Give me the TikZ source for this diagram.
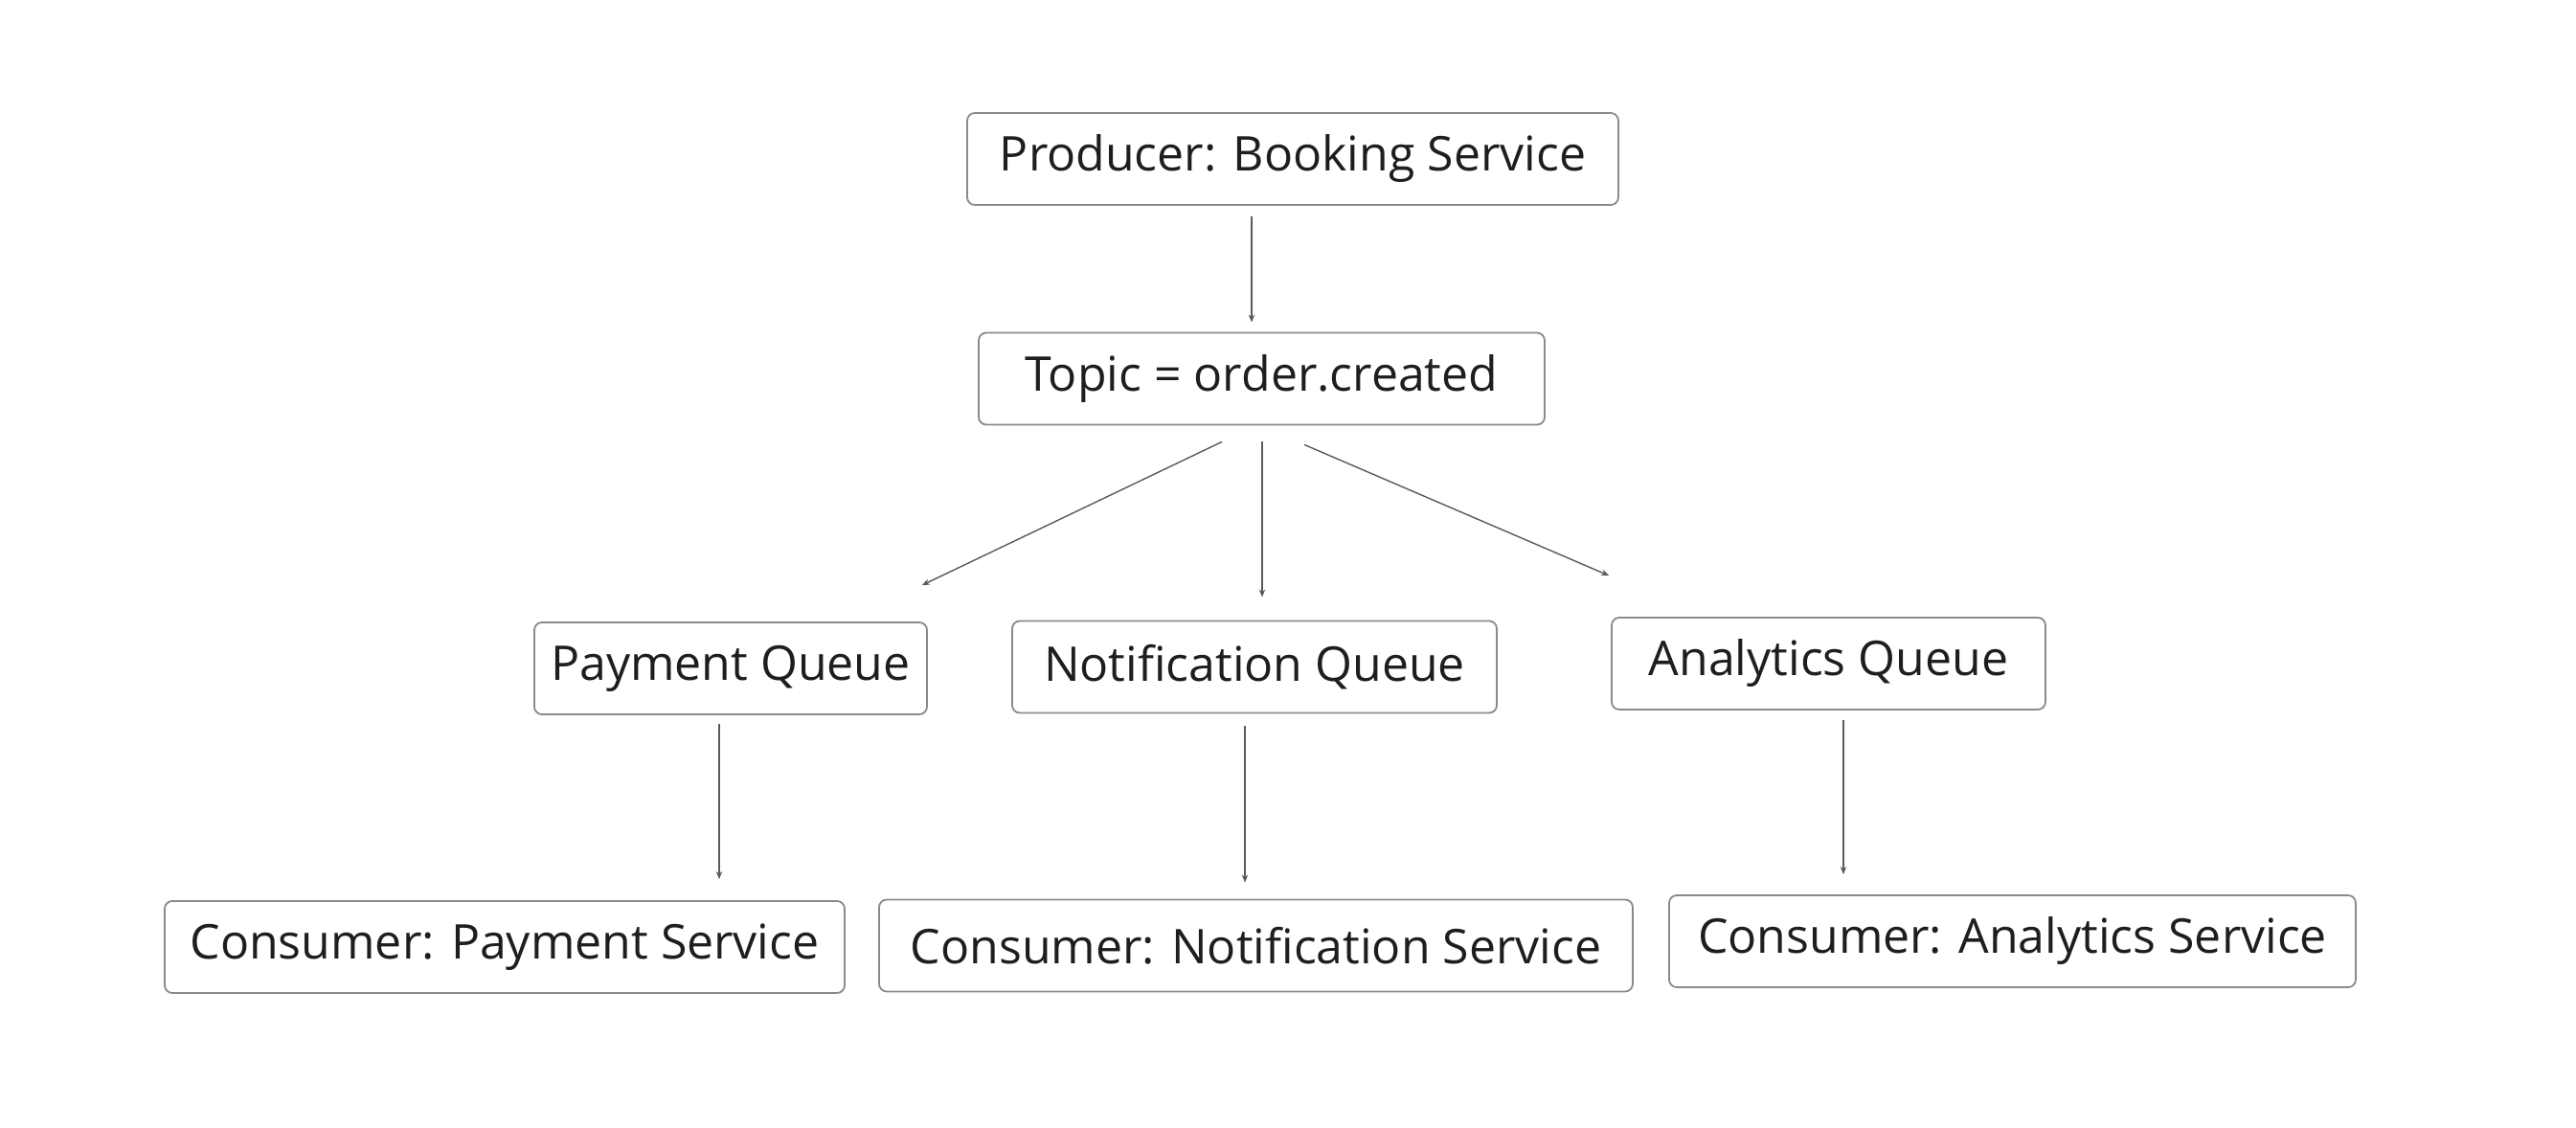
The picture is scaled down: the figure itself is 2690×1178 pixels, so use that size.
\documentclass[tikz,border=0pt]{standalone}
\usepackage{fontspec}
\setmainfont{Open Sans}
\usepackage{xcolor}
\usepackage{tikz}
\usetikzlibrary{arrows.meta,positioning,calc}
\definecolor{cInk}{HTML}{1E1E1E}
\definecolor{cEdge}{HTML}{8A8A8A}
\definecolor{cFlow}{HTML}{5A5A5A}
\newcommand{\lbl}[1]{{\fontsize{12.5}{15}\selectfont #1}}

\begin{document}
\begin{tikzpicture}[
    x=0.25pt, y=-0.25pt,
    font=\rmfamily, text=cInk,
    box/.style={rounded corners=2pt, draw=cEdge, line width=0.45pt,
                align=center, inner sep=0pt, minimum height=24pt},
    flow/.style={-{Stealth[length=2pt,width=1.6pt]}, line width=0.35pt, draw=cFlow},
  ]
  \useasboundingbox (0,0) rectangle (2690,1178);
  \node[box, minimum width=170pt] (prod) at (1350,166) {\lbl{Producer: Booking Service}};
  \node[box, minimum width=147.75pt] (topic) at (1317.5,395.5) {\lbl{Topic = order.created}};
  \node[box, minimum width=102.5pt] (payq) at (763,698) {\lbl{Payment Queue}};
  \node[box, minimum width=126.5pt] (notq) at (1310,696.5) {\lbl{Notification Queue}};
  \node[box, minimum width=113.25pt] (anaq) at (1909.5,693) {\lbl{Analytics Queue}};
  \node[box, minimum width=177.5pt] (conp) at (527,989) {\lbl{Consumer: Payment Service}};
  \node[box, minimum width=196.75pt] (conn) at (1311.5,987.5) {\lbl{Consumer: Notification Service}};
  \node[box, minimum width=179.25pt] (cona) at (2101.5,983) {\lbl{Consumer: Analytics Service}};
  \draw[flow] ($(prod.south)+(-43,11)$) -- ($(topic.north)+(-10.5,-10)$);
  \draw[flow] ($(topic.south)+(-41.5,17)$) -- ($(payq.north east)+(-6,-38)$);
  \draw[flow] ($(topic.south)+(0.5,17)$) -- ($(notq.north)+(8,-24)$);
  \draw[flow] ($(topic.south)+(44.5,20)$) -- ($(anaq.north west)+(-2,-43)$);
  \draw[flow] ($(payq.south)+(-12,9)$) -- ($(payq.south |- conp.north)+(-12,-22)$);
  \draw[flow] ($(notq.south)+(-10,13)$) -- ($(notq.south |- conn.north)+(-10,-17)$);
  \draw[flow] ($(anaq.south)+(15.5,10)$) -- ($(anaq.south |- cona.north)+(15.5,-21)$);
\end{tikzpicture}
\end{document}
